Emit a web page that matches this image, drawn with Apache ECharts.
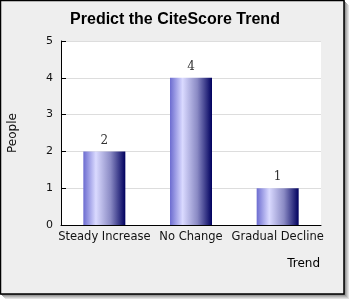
<!DOCTYPE html>
<html>
<head>
<meta charset="utf-8">
<script src="https://cdn.jsdelivr.net/npm/echarts@6/dist/echarts.min.js"></script>
<style>html,body{margin:0;padding:0;background:#fff;}#c{width:350px;height:300px;}</style>
</head>
<body>
<div id="c"></div>
<script>
const categories = ["Steady Increase", "No Change", "Gradual Decline"];
const values = [2, 4, 1];
const yTicks = [0, 1, 2, 3, 4, 5];
const titleText = "Predict the CiteScore Trend";
const xName = "Trend";
const yName = "People";

const chart = echarts.init(document.getElementById('c'), null, {renderer: 'canvas'});
const shadowCols = ['#7a7a7a', '#999999', '#b4b4b4', '#cccccc', '#e2e2e2'];
const frame = [];
for (let k = 5; k >= 1; k--) {
  frame.push({type: 'rect', z: -10, silent: true,
    shape: {x: k, y: k, width: 344, height: 294},
    style: {fill: shadowCols[k - 1]}});
}
frame.push({type: 'rect', z: -9, silent: true,
  shape: {x: 0.5, y: 0.5, width: 343.5, height: 293.5},
  style: {fill: '#eeeeee', stroke: '#000', lineWidth: 1.5}});
frame.push({type: 'text', z: 10, silent: true, x: 320, y: 258,
  style: {text: xName, font: '12px "DejaVu Sans"', fill: '#000', textAlign: 'right'}});

chart.setOption({
  backgroundColor: '#ffffff',
  animation: false,
  graphic: frame,
  title: {
    text: titleText, left: 'center', top: 7,
    textStyle: {fontFamily: '"Liberation Sans", Arial', fontWeight: 'bold', fontSize: 16, color: '#000'}
  },
  grid: {left: 61, top: 41, right: 29, bottom: 75, show: true, backgroundColor: '#ffffff', borderWidth: 0,
    containLabel: false, outerBoundsMode: 'none'},
  xAxis: {
    type: 'category', data: categories,
    axisLine: {lineStyle: {color: '#000', width: 1}},
    axisTick: {inside: true, length: 5, lineStyle: {color: '#000'}},
    axisLabel: {fontFamily: '"DejaVu Sans"', fontSize: 11.5, color: '#111', margin: 6, interval: 0, hideOverlap: false},
    splitLine: {show: false}
  },
  yAxis: {
    type: 'value', min: yTicks[0], max: yTicks[yTicks.length - 1], interval: 1,
    name: yName, nameLocation: 'middle', nameGap: 42,
    nameTextStyle: {fontFamily: '"DejaVu Sans"', fontSize: 12, color: '#111'},
    axisLine: {show: true, lineStyle: {color: '#000', width: 1}},
    axisTick: {show: true, inside: true, length: 5, lineStyle: {color: '#000'}},
    axisLabel: {fontFamily: '"DejaVu Sans"', fontSize: 11, color: '#111', margin: 8},
    splitLine: {lineStyle: {color: '#dddddd', width: 1}}
  },
  series: [{
    type: 'bar', data: values, barWidth: 42,
    itemStyle: {
      color: new echarts.graphic.LinearGradient(0, 0, 1, 0, [
        {offset: 0, color: '#6c6cd0'},
        {offset: 0.3, color: '#dadaff'},
        {offset: 0.65, color: '#8a8ac4'},
        {offset: 1, color: '#00005e'}
      ])
    },
    label: {show: true, position: 'top', distance: 5,
      fontFamily: '"DejaVu Serif"', fontSize: 12, color: '#333'}
  }]
});
</script>
</body>
</html>
